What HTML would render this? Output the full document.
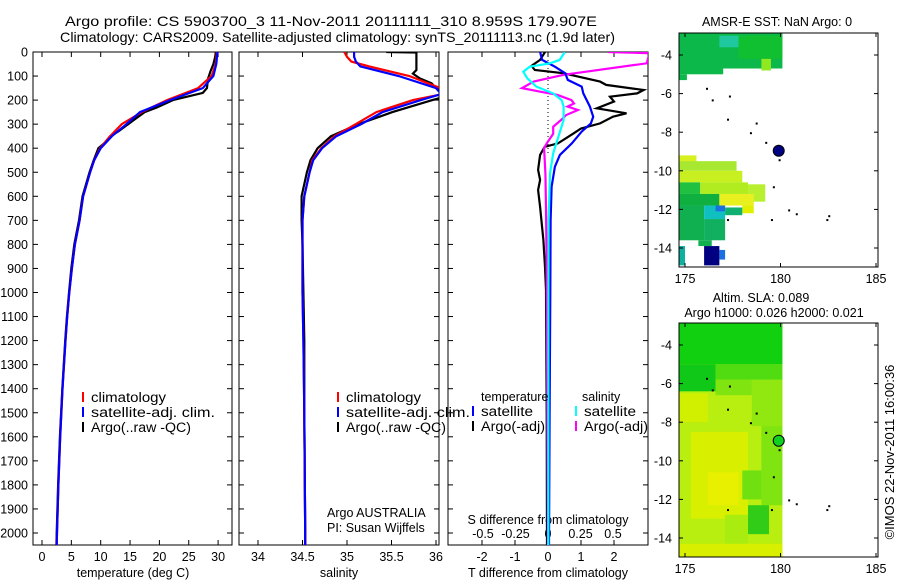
<!DOCTYPE html>
<html><head><meta charset="utf-8"><style>
body{margin:0;background:#fff;width:900px;height:580px;overflow:hidden}
svg{display:block;font-family:"Liberation Sans",sans-serif;font-size:12.5px}
</style></head><body>
<svg id="fig" width="900" height="580" viewBox="0 0 900 580" xmlns="http://www.w3.org/2000/svg">
<defs>
<clipPath id="c1"><rect x="33" y="52" width="199" height="493"/></clipPath>
<clipPath id="c2"><rect x="239" y="52" width="200" height="493"/></clipPath>
<clipPath id="c3"><rect x="448" y="52" width="200" height="493"/></clipPath>
</defs>
<text x="65" y="26" font-size="14" textLength="532" lengthAdjust="spacingAndGlyphs">Argo profile: CS 5903700_3 11-Nov-2011 20111111_310 8.959S 179.907E</text>
<text x="60" y="42" font-size="14" textLength="555" lengthAdjust="spacingAndGlyphs">Climatology: CARS2009. Satellite-adjusted climatology: synTS_20111113.nc (1.9d later)</text>
<g id="g1"></g>
<g id="g2"></g>
<g id="g3"></g>
<g id="m1"></g>
<g id="m2"></g>
<text transform="translate(894,452) rotate(-90)" text-anchor="middle" font-size="13">©IMOS 22-Nov-2011 16:00:36</text>
</svg>
<script>
// ---- data ----
const depthClim=[0,50,100,150,200,250,300,350,400,450,500,600,700,800,900,1000,1100,1200,1400,1600,1800,2000,2050];
const tClim=[29.8,29.6,28.9,26.6,21.3,17.0,13.6,11.6,9.9,8.9,8.2,7.0,6.4,5.6,5.1,4.65,4.3,4.0,3.5,3.1,2.8,2.55,2.5];
const tSat=[29.9,29.7,29.2,27.4,21.8,16.7,14.4,11.9,10.0,8.9,8.2,7.0,6.4,5.6,5.1,4.65,4.3,4.0,3.5,3.1,2.8,2.55,2.5];
const depthArgoT=[0,20,50,80,110,150,170,200,230,250,280,300,330,350,380,400,450,500,600,700,800,900,1000,1100,1200,1400,1600,1800,2000,2050];
const tArgo=[29.6,29.5,29.2,28.7,28.3,28.1,27.4,22.3,19.6,17.5,15.8,14.7,13.0,11.6,10.6,9.6,8.8,8.1,6.9,6.3,5.5,5.0,4.6,4.25,3.95,3.45,3.05,2.75,2.5,2.45];
const depthS=[0,20,40,60,100,150,175,200,250,300,350,400,450,500,600,700,800,1000,1200,1500,2000,2050];
const sClim=[34.97,35.0,35.05,35.25,35.7,36.05,36.08,35.74,35.33,35.10,34.86,34.71,34.61,34.58,34.52,34.50,34.50,34.50,34.51,34.52,34.53,34.53];
const sSat=[35.08,35.08,35.10,35.15,35.58,36.0,36.06,35.83,35.40,35.16,34.88,34.72,34.62,34.58,34.52,34.50,34.50,34.50,34.51,34.52,34.53,34.53];
const depthArgoS=[0,2,5,75,90,110,130,150,160,175,200,250,300,350,400,450,500,600,700,800,1000,1200,1500,2000,2050];
const sArgo=[35.44,35.78,35.78,35.78,35.74,35.82,35.95,36.0,36.1,36.2,35.96,35.51,35.13,34.82,34.67,34.59,34.55,34.49,34.49,34.50,34.51,34.52,34.52,34.53,34.53];
const depthDTs=[0,33,61,88,116,144,172,227,269,297,331,380,428,477,560,700,1000,1500,2050];
const dTsat=[-0.24,-0.18,0.21,0.52,0.6,1.02,1.07,1.27,1.37,1.3,1.02,0.72,0.36,0.21,0.11,0.08,0.07,0.05,0.03];
const depthDSs=[0,33,47,61,82,109,144,172,200,227,283,352,421,505,700,1000,2050];
const dSsat=[0.13,0.09,0.015,-0.14,-0.19,-0.16,-0.09,0.04,0.105,0.12,0.12,0.08,0.04,0.015,0.005,0.003,0.002];
const depthDSa=[0,2,5,47,95,123,150,164,178,200,214,227,241,262,283,311,340,380,400,505,644,921,1500,2050];
const dSargo=[0.46,0.6,0.78,0.76,0.12,-0.11,-0.2,-0.07,0.07,0.18,0.2,0.15,0.23,0.14,0.1,0.04,0.04,-0.01,-0.03,-0.02,-0.015,-0.01,-0.005,0];
const depthDTa=[0,33,58,75,88,123,137,158,172,186,206,234,255,269,297,318,338,380,394,428,490,532,574,644,699,782,893,990,1500,2050];
const dTargo=[-0.09,-0.24,-0.5,-0.4,0.46,1.58,1.76,2.9,2.7,1.88,2.0,1.48,2.38,1.97,1.58,1.0,0.78,0.3,-0.1,-0.24,-0.3,-0.24,-0.3,-0.24,-0.2,-0.14,-0.09,-0.06,-0.04,-0.03];
const depthTicks=[0,100,200,300,400,500,600,700,800,900,1000,1100,1200,1300,1400,1500,1600,1700,1800,1900,2000];
const tTicks=[0,5,10,15,20,25,30];
const sTicks=[34,34.5,35,35.5,36];
const sTickLabels=["34","34.5","35","35.5","36"];
const dTTicks=[-2,-1,0,1,2];
const dSTicks=[-0.5,-0.25,0,0.25,0.5];
const dSTickLabels=["-0.5","-0.25","0","0.25","0.5"];
const lonTicks=[175,180,185];
const latTicks=[-4,-6,-8,-10,-12,-14];
// map patches: [lon0,lon1,lat0,lat1,color]
const sstPatches=[[174.7,180.1,-2.85,-4.7,"#0cb84a"],[174.7,177.0,-4.7,-5.0,"#0cb84a"],[174.7,175.1,-5.0,-5.3,"#0cb84a"],[176.8,178.0,-3.0,-3.6,"#20c8a0"],[177.8,180.1,-3.0,-4.2,"#10c030"],[179.0,179.5,-4.2,-4.8,"#90e820"],
[174.7,175.6,-9.2,-9.6,"#d8f020"],[174.7,177.7,-9.5,-10.0,"#a8e830"],[174.7,178.0,-10.0,-10.6,"#c8f020"],[174.7,175.8,-10.6,-11.2,"#20c040"],[175.8,178.3,-10.6,-11.2,"#b0ec20"],[178.3,179.2,-10.7,-11.6,"#b8f030"],[174.7,176.8,-11.2,-11.8,"#10b040"],[176.8,178.6,-11.2,-11.8,"#e8f020"],[178.0,178.6,-11.8,-12.2,"#e0f000"],[174.7,176.0,-11.8,-13.6,"#10b050"],[176.0,177.1,-11.8,-12.5,"#10c0c0"],[176.6,177.1,-11.8,-12.1,"#1a70e0"],[177.1,178.0,-11.9,-12.3,"#10b070"],[176.0,177.1,-12.5,-13.6,"#10b060"],[175.7,176.4,-13.6,-13.9,"#10b050"],[174.7,175.0,-13.9,-14.9,"#10b0a0"],[176.0,176.8,-13.9,-14.9,"#000080"],[176.8,177.1,-14.1,-14.6,"#1a70e0"]];
const slaPatches=[[174.7,180.1,-2.85,-15.0,"#b8ee10"],[174.7,180.1,-2.85,-5.0,"#10d010"],[174.7,176.6,-5.0,-6.4,"#10c818"],[176.6,180.1,-5.0,-5.8,"#50dc10"],[176.6,178.5,-5.8,-6.6,"#80e410"],[178.5,180.1,-5.8,-8.2,"#90e810"],[179.0,180.1,-8.2,-12.3,"#80e410"],[174.7,176.2,-6.5,-8.0,"#d0f000"],[175.3,178.3,-8.5,-13.0,"#d8f000"],[176.2,177.8,-10.6,-12.3,"#e8f000"],[178.0,179.0,-10.5,-12.0,"#70e010"],[178.3,179.4,-12.3,-13.8,"#30cc18"],[177.1,178.3,-12.8,-14.3,"#a8ec10"],[174.7,180.1,-14.3,-15.0,"#d8f000"]];
const islands=[[176.1,-5.7],[176.4,-6.3],[177.3,-6.1],[177.2,-7.3],[178.4,-8.0],[178.7,-7.5],[179.2,-8.5],[179.6,-10.8],[179.9,-9.4],[180.4,-12.0],[180.8,-12.2],[182.5,-12.3],[182.4,-12.5],[177.2,-12.5],[179.5,-12.5]];
const argoLon=179.907, argoLat=-8.959;

const NS="http://www.w3.org/2000/svg";
function mk(p,tag,attrs){const e=document.createElementNS(NS,tag);for(const k in attrs)e.setAttribute(k,attrs[k]);p.appendChild(e);return e;}
const py=d=>52+d*0.2405;
function panel(g,x0,x1){
  const r=mk(g,'rect',{x:x0,y:52,width:x1-x0,height:493,fill:'none',stroke:'#000','stroke-width':1});
  
  
  depthTicks.forEach(d=>{
    mk(g,'line',{x1:x0,x2:x0+5,y1:py(d),y2:py(d),stroke:'#000'});
    mk(g,'line',{x1:x1-5,x2:x1,y1:py(d),y2:py(d),stroke:'#000'});
  });
}
function xticks(g,vals,labels,fx){
  vals.forEach((v,i)=>{const x=fx(v);
    mk(g,'line',{x1:x,x2:x,y1:545,y2:540,stroke:'#000'});
    mk(g,'line',{x1:x,x2:x,y1:52,y2:57,stroke:'#000'});
    const t=mk(g,'text',{x:x,y:561,'text-anchor':'middle'});t.textContent=labels[i];
    
    
  });
}
function line(g,clip,depths,vals,fx,color,name){
  const pts=depths.map((d,i)=>fx(vals[i]).toFixed(1)+','+py(d).toFixed(1)).join(' ');
  const p=mk(g,'polyline',{points:pts,fill:'none',stroke:color,'stroke-width':2.2,'clip-path':'url(#'+clip+')'});
  
  
}
function legend(g,x,y,color,label,w){
  mk(g,'line',{x1:x,x2:x,y1:y-10,y2:y,stroke:color,'stroke-width':2});
  const t=mk(g,'text',{x:x+8,y:y,'font-size':13.5,textLength:w,lengthAdjust:'spacingAndGlyphs'});t.textContent=label;
  
  
}
function txt(g,x,y,s,anchor,name){const t=mk(g,'text',{x:x,y:y,'text-anchor':anchor||'start'});t.textContent=s;
  
  return t;}

// Panel 1
const g1=document.getElementById('g1');
const fT=v=>42+v*5.87;
panel(g1,33,232);
depthTicks.forEach(d=>{const t=mk(g1,'text',{x:28,y:py(d)+4.5,'text-anchor':'end'});t.textContent=d;
  
  });
xticks(g1,tTicks,tTicks.map(String),fT);
txt(g1,133,577,'temperature (deg C)','middle','x-axis-title-temperature');
line(g1,'c1',depthArgoT,tArgo,fT,'#000','argo-temperature-line');
line(g1,'c1',depthClim,tClim,fT,'#f00','climatology-temperature-line');
line(g1,'c1',depthClim,tSat,fT,'#00f','satellite-temperature-line');
legend(g1,83,402,'#f00','climatology',75);legend(g1,83,417,'#00f','satellite-adj. clim.',124);legend(g1,83,432,'#000','Argo(..raw -QC)',100);

// Panel 2
const g2=document.getElementById('g2');
const fS=v=>258+(v-34)*89;
panel(g2,239,439);
xticks(g2,sTicks,sTickLabels,fS);
txt(g2,339,577,'salinity','middle','x-axis-title-salinity');
line(g2,'c2',depthArgoS,sArgo,fS,'#000','argo-salinity-line');
line(g2,'c2',depthS,sClim,fS,'#f00','climatology-salinity-line');
line(g2,'c2',depthS,sSat,fS,'#00f','satellite-salinity-line');
legend(g2,338,402,'#f00','climatology',75);legend(g2,338,417,'#00f','satellite-adj. clim.',124);legend(g2,338,432,'#000','Argo(..raw -QC)',100);
txt(g2,327,517,'Argo AUSTRALIA','start','argo-agency-label');
txt(g2,327,532,'PI: Susan Wijffels','start','pi-label');

// Panel 3
const g3=document.getElementById('g3');
const fdT=v=>548+v*33, fdS=v=>548+v*130;
panel(g3,448,648);
xticks(g3,dTTicks,dTTicks.map(String),fdT);
dSTicks.forEach((v,i)=>{const t=mk(g3,'text',{x:fdS(v),y:538,'text-anchor':'middle'});t.textContent=dSTickLabels[i];
  
  });
txt(g3,548,524,'S difference from climatology','middle','s-diff-axis-title');
txt(g3,548,577,'T difference from climatology','middle','t-diff-axis-title');
mk(g3,'line',{x1:fdT(0),x2:fdT(0),y1:py(0),y2:py(420),stroke:'#000','stroke-dasharray':'1,3'});
line(g3,'c3',depthDTa,dTargo,fdT,'#000','argo-t-diff-line');
line(g3,'c3',depthDSa,dSargo,fdS,'#f0f','argo-s-diff-line');
line(g3,'c3',depthDTs,dTsat,fdT,'#00f','satellite-t-diff-line');
line(g3,'c3',depthDSs,dSsat,fdS,'#0ff','satellite-s-diff-line');
txt(g3,481,401,'temperature','start','legend-temperature-heading');
txt(g3,582,401,'salinity','start','legend-salinity-heading');
legend(g3,473,416,'#00f','satellite',52);legend(g3,473,431,'#000','Argo(-adj)',64);
legend(g3,576,416,'#0ff','satellite',52);legend(g3,576,431,'#f0f','Argo(-adj)',64);

// Maps
function map(g,top,patches,argoColor){
  const fx=l=>685+(l-175)*19.1, fy=la=>top+22+(-4-la)*19.3;
  const bottom=top+234;
  const clipId='mc'+top;
  const cp=mk(document.querySelector('defs'),'clipPath',{id:clipId});
  mk(cp,'rect',{x:679,y:top,width:199,height:234});
  patches.forEach(p=>{const r=mk(g,'rect',{x:fx(p[0]),y:fy(p[2]),width:fx(p[1])-fx(p[0]),height:fy(p[3])-fy(p[2]),fill:p[4],'clip-path':'url(#'+clipId+')'});
    
    });
  islands.forEach(p=>{const r=mk(g,'rect',{x:fx(p[0]),y:fy(p[1]),width:2,height:2,fill:'#000'});
    
    });
  const fr=mk(g,'rect',{x:679,y:top,width:199,height:234,fill:'none',stroke:'#000'});
  
  
  lonTicks.forEach(l=>{const x=fx(l);mk(g,'line',{x1:x,x2:x,y1:bottom,y2:bottom-4,stroke:'#000'});mk(g,'line',{x1:x,x2:x,y1:top,y2:top+4,stroke:'#000'});
    const t=mk(g,'text',{x:x,y:bottom+16,'text-anchor':'middle'});t.textContent=l;
    
    });
  latTicks.forEach(la=>{const y=fy(la);mk(g,'line',{x1:679,x2:683,y1:y,y2:y,stroke:'#000'});mk(g,'line',{x1:874,x2:878,y1:y,y2:y,stroke:'#000'});
    const t=mk(g,'text',{x:672,y:y+4.5,'text-anchor':'end'});t.textContent=la;
    
    });
  const c=mk(g,'circle',{cx:fx(argoLon),cy:fy(argoLat),r:5.5,fill:argoColor,stroke:'#000','stroke-width':1});
  
  
}
const m1=document.getElementById('m1'),m2=document.getElementById('m2');
map(m1,33,sstPatches,'#000080');
txt(m1,777,26,'AMSR-E SST: NaN Argo: 0','middle','sst-map-title');
map(m2,323,slaPatches,'#10d020');
txt(m2,761,302,'Altim. SLA: 0.089','middle','sla-map-title');
txt(m2,774,317,'Argo h1000: 0.026 h2000: 0.021','middle','sla-map-subtitle');
</script>
</body></html>
